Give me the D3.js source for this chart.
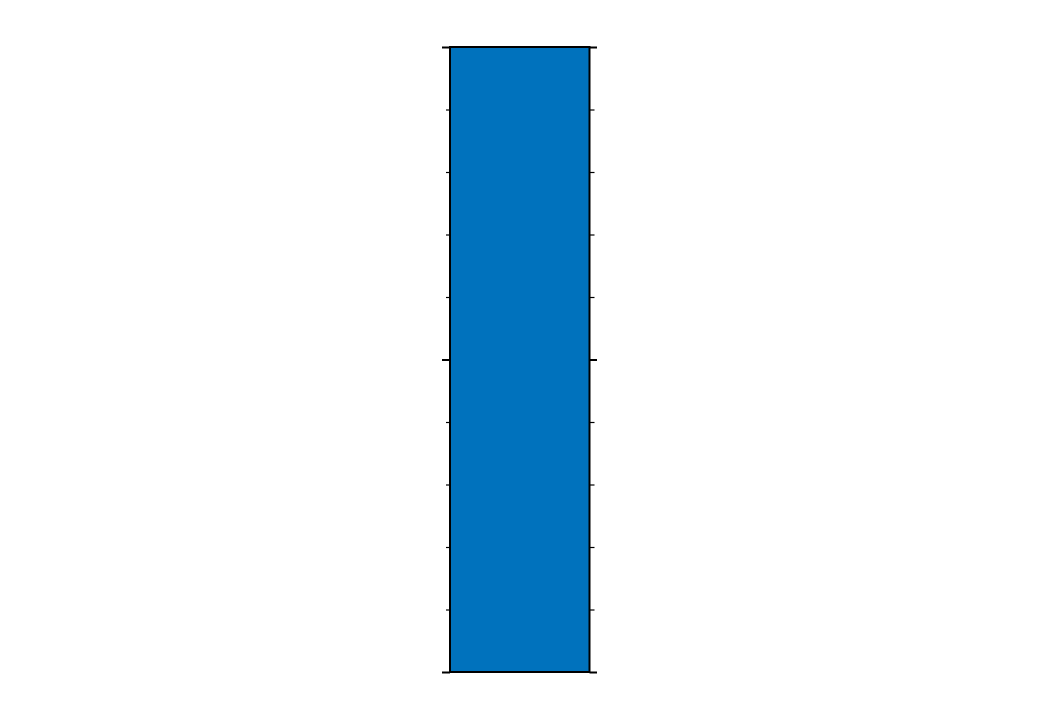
<!DOCTYPE html>
<html>
<head>
<meta charset="utf-8">
<script src="https://cdn.jsdelivr.net/npm/d3@7"></script>
<style>
html,body{margin:0;padding:0;background:#fff;}
svg{display:block;}
</style>
</head>
<body>
<script>
// Data
const categories = ["A"];
const values = [1];
const majorTicks = [0, 0.5, 1];
const minorTicks = [0.1, 0.2, 0.3, 0.4, 0.6, 0.7, 0.8, 0.9];

const W = 1040, H = 720;
const plotLeft = 450, plotRight = 589.5, plotTop = 47, plotBottom = 672;

const svg = d3.select("body").append("svg").attr("width", W).attr("height", H);

const x = d3.scaleBand().domain(categories).range([plotLeft, plotRight]).padding(0);
const y = d3.scaleLinear().domain([0, 1]).range([plotBottom, plotTop]);

// bars
svg.append("g").selectAll("rect").data(values).join("rect")
  .attr("x", (d, i) => x(categories[i]))
  .attr("width", x.bandwidth())
  .attr("y", d => y(d))
  .attr("height", d => y(0) - y(d))
  .attr("fill", "#0072BD");

function styleAxis(g, w) {
  g.select(".domain").remove();
  g.selectAll("text").remove();
  g.selectAll(".tick line").attr("stroke", "#000").attr("stroke-width", w);
}

// minor ticks
svg.append("g").attr("transform", `translate(${plotLeft},0)`)
  .call(d3.axisLeft(y).tickValues(minorTicks).tickSize(4).tickFormat(""))
  .call(g => styleAxis(g, 1.2));
svg.append("g").attr("transform", `translate(${plotRight},0)`)
  .call(d3.axisRight(y).tickValues(minorTicks).tickSize(5).tickFormat(""))
  .call(g => styleAxis(g, 1.2));

// major ticks
svg.append("g").attr("transform", `translate(${plotLeft},0)`)
  .call(d3.axisLeft(y).tickValues(majorTicks).tickSize(8).tickFormat(""))
  .call(g => styleAxis(g, 2));
svg.append("g").attr("transform", `translate(${plotRight},0)`)
  .call(d3.axisRight(y).tickValues(majorTicks).tickSize(7.5).tickFormat(""))
  .call(g => styleAxis(g, 2));

// box
svg.append("rect")
  .attr("x", plotLeft).attr("y", y(1))
  .attr("width", plotRight - plotLeft).attr("height", y(0) - y(1))
  .attr("fill", "none").attr("stroke", "#000").attr("stroke-width", 2);
</script>
</body>
</html>
